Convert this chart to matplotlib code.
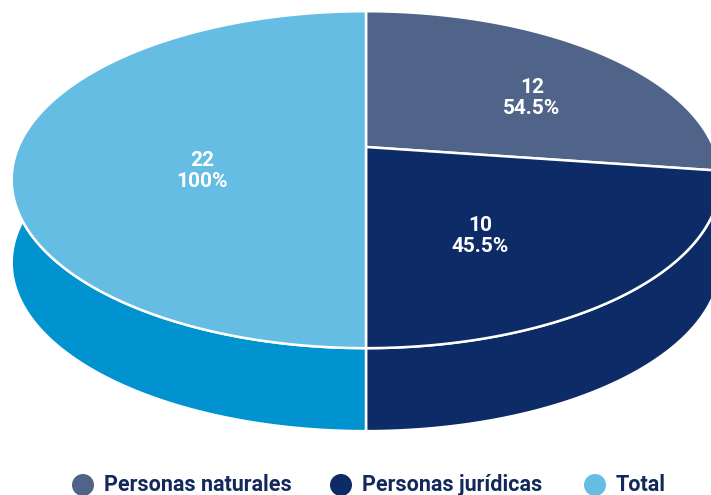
import numpy as np
import matplotlib.pyplot as plt
from matplotlib.patches import Polygon, Circle

# datos
labels = ['Personas naturales', 'Personas jurídicas', 'Total']
values = [12, 10, 22]
pct_labels = ['54.5%', '45.5%', '100%']
top_colors = ['#506489', '#0d2b67', '#66bde3']
side_colors = ['#42577f', '#0d2b67', '#0093cf']

# geometria de la torta 3D (en pixeles)
cx, cy = 366, 147
D, F = 4.56, 1585
alpha = np.deg2rad(27.8)
depth = 83  # grosor del disco en pixeles
ca, sa = np.cos(alpha), np.sin(alpha)


def proj(x, y):
    den = D + y * ca
    return cx + F * x / den, cy - F * (y * sa) / den


fig = plt.figure(figsize=(7.11, 4.95), dpi=100)
ax = fig.add_axes([0, 0, 1, 1])
ax.set_xlim(0, 711)
ax.set_ylim(495, 0)
ax.axis('off')

total = sum(values[:2])
angles = []
start = 90.0
for v in values:
    end = start - 360.0 * v / (2 * total)
    angles.append((start, end))
    start = end

# paredes laterales
for (a1, a2), col in zip(angles, side_colors):
    phi = np.deg2rad(np.linspace(a1, a2, 200))
    tx, ty = proj(np.cos(phi), np.sin(phi))
    pts = np.vstack([np.column_stack([tx, ty]), np.column_stack([tx, ty + depth])[::-1]])
    ax.add_patch(Polygon(pts, closed=True, facecolor=col, edgecolor='white', lw=1.8, zorder=2))

# caras superiores
for (a1, a2), col in zip(angles, top_colors):
    phi = np.deg2rad(np.linspace(a1, a2, 200))
    tx, ty = proj(np.cos(phi), np.sin(phi))
    pts = np.vstack([[cx, cy], np.column_stack([tx, ty])])
    ax.add_patch(Polygon(pts, closed=True, facecolor=col, edgecolor='white', lw=1.8, zorder=3))

# etiquetas
label_xy = [(532, 98), (480, 236), (202, 171)]
for (lx, ly), v, p in zip(label_xy, values, pct_labels):
    ax.text(lx, ly, f'{v}\n{p}', ha='center', va='center', color='white',
            fontsize=15, fontweight='bold', family='Roboto', linespacing=1.1, zorder=5)

# leyenda
legend_x = [83, 341, 595]
for lx, lab, col in zip(legend_x, labels, top_colors):
    ax.add_patch(Circle((lx, 485), 11, facecolor=col, edgecolor='none', zorder=5))
    ax.text(lx + 21, 485, lab, ha='left', va='center', color='#13295b',
            fontsize=15.5, fontweight='bold', family='Roboto', zorder=5)

fig.savefig('out.png', dpi=100)
